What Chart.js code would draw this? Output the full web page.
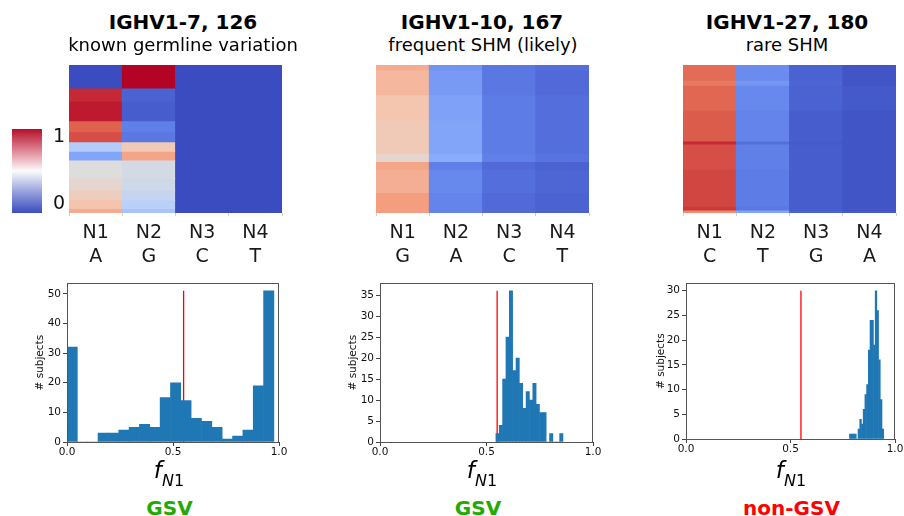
<!DOCTYPE html>
<html><head><meta charset="utf-8">
<script src="https://cdn.jsdelivr.net/npm/chart.js@4.4.1/dist/chart.umd.min.js"></script>
<style>
html,body{margin:0;padding:0;background:#fff;}
body{width:904px;height:516px;position:relative;overflow:hidden;font-family:"DejaVu Sans";}
canvas{position:absolute;}
.t{position:absolute;white-space:nowrap;line-height:1;color:#000;}
</style></head><body>
<script>
// ---------------- DATA ----------------
const colLabels1 = [['N1','A'],['N2','G'],['N3','C'],['N4','T']];
const colLabels2 = [['N1','G'],['N2','A'],['N3','C'],['N4','T']];
const colLabels3 = [['N1','C'],['N2','T'],['N3','G'],['N4','A']];
const nSubjects = 204;

// heatmap 1 : band boundaries (subject rows) and per-column fractions
const hm1Bounds = [0,32,50,77,92,106,119,131,156,172,186,198,204];
const hm1N1 = [0.00,0.95,0.97,0.87,0.90,0.36,0.22,0.50,0.54,0.58,0.63,0.70];
const hm1N2 = [1.00,0.05,0.04,0.12,0.10,0.60,0.72,0.47,0.45,0.42,0.38,0.33];
const hm1N3 = [0,0,0,0,0,0,0,0,0,0,0,0];
const hm1N4 = [0,0,0,0,0,0,0,0,0,0,0,0];

// heatmap 2
const hm2Bounds = [0,7,41,76,122,133,144,176,204];
const hm2N1 = [0.70,0.66,0.62,0.60,0.54,0.72,0.69,0.74];
const hm2N2 = [0.17,0.19,0.21,0.22,0.24,0.12,0.14,0.13];
const hm2N3 = [0.10,0.10,0.11,0.11,0.12,0.07,0.08,0.07];
const hm2N4 = [0.08,0.07,0.08,0.08,0.09,0.05,0.06,0.05];

// heatmap 3
const hm3Bounds = [0,21,28,62,105,109,144,195,200,204];
const hm3N1 = [0.85,0.82,0.86,0.88,0.95,0.90,0.91,0.93,0.78];
const hm3N2 = [0.15,0.18,0.14,0.13,0.08,0.12,0.11,0.10,0.22];
const hm3N3 = [0.05,0.06,0.05,0.04,0.03,0.04,0.04,0.04,0.05];
const hm3N4 = [0.02,0.02,0.03,0.02,0.02,0.02,0.02,0.02,0.03];

// histograms of f_N1 (bin start, bin width, counts)
const h1Start = 0.0,   h1Width = 0.0488;
const h1Counts = [32,0,0,3,3,4,5,6,5,15,20,14,8,7,5,1,2,4,19,51];
const h2Start = 0.544, h2Width = 0.01575;
const h2Counts = [2,4,15,25,36,17,20,14,8,12,10,14,9,7,7,0,2,0,0,2];
const h3Start = 0.782, h3Width = 0.0082;
const h3Counts = [1,1,1,1,0,2,4,3,6,9,11,18,24,24,19,30,26,16,8,2];
const threshold = 0.55;
const xTicks = [0, 0.5, 1];
const colorbarTicks = [0, 1];
const colorbarRange = [-0.14, 1.116];

// ---------------- helpers ----------------
Chart.defaults.font.family = 'DejaVu Sans';
Chart.defaults.color = '#111';
const cwStops = [
  [0.0,[59,76,192]],[0.125,[98,130,234]],[0.25,[141,176,254]],[0.375,[184,208,249]],
  [0.5,[221,221,221]],[0.625,[245,196,173]],[0.75,[244,154,123]],[0.875,[222,96,77]],[1.0,[180,4,38]]];
function coolwarm(v){
  v = Math.max(0,Math.min(1,v));
  for(let i=0;i<cwStops.length-1;i++){
    const [a,ca]=cwStops[i],[b,cb]=cwStops[i+1];
    if(v<=b){const t=(v-a)/(b-a);
      return 'rgb('+ca.map((c,k)=>Math.round(c+(cb[k]-c)*t)).join(',')+')';}
  }
  return 'rgb(180,4,38)';
}
function mkCanvas(l,t,w,h){
  const c=document.createElement('canvas');
  c.width=w;c.height=h;c.style.left=l+'px';c.style.top=t+'px';
  c.style.width=w+'px';c.style.height=h+'px';
  document.body.appendChild(c);return c;
}
function txt(cx,baseline,size,html,extra){
  const d=document.createElement('div');d.className='t';
  d.style.fontSize=size+'px';d.style.top=(baseline-0.846*size)+'px';
  d.style.left=cx+'px';d.style.transform='translateX(-50%)';
  if(extra)Object.assign(d.style,extra);
  d.innerHTML=html;document.body.appendChild(d);return d;
}

function heatmap(left,top,w,h,labels,bounds,cols){
  const padL=10,padR=10,padT=2,axisH=62;
  const cv=mkCanvas(left-padL,top-padT,w+padL+padR,h+padT+axisH);
  const datasets=[];
  for(let b=0;b<bounds.length-1;b++){
    datasets.push({
      data: cols.map(()=>bounds[b+1]-bounds[b]),
      backgroundColor: cols.map(c=>coolwarm(c[b])),
      borderWidth:0, barPercentage:1, categoryPercentage:1, inflateAmount:0.4
    });
  }
  new Chart(cv,{type:'bar',data:{labels:labels,datasets:datasets},
    options:{responsive:false,animation:false,devicePixelRatio:1,
      layout:{padding:{left:padL,right:padR,top:padT,bottom:0}},
      plugins:{legend:{display:false},tooltip:{enabled:false}},
      scales:{
        x:{stacked:true,grid:{display:true,drawOnChartArea:false,tickLength:3,color:'#cfcfcf'},
           border:{display:false},
           ticks:{padding:5,color:'#1a1a1a',font:{size:19,lineHeight:1.26}},
           afterFit:s=>{s.height=axisH;}},
        y:{stacked:true,display:false,reverse:true,min:0,max:nSubjects}
      }}});
}

const framePlugin={id:'frame',afterDraw(ch){const a=ch.chartArea,c=ch.ctx;
  c.save();c.strokeStyle='#555';c.lineWidth=1;
  c.strokeRect(Math.round(a.left)+0.5,Math.round(a.top)+0.5,Math.round(a.right-a.left)-1,Math.round(a.bottom-a.top));
  c.restore();}};

function hist(areaL,areaT,areaW,areaH,start,width,counts,ymax,ystep,titlePad){
  const axW=40,axH=22,padT=8,padR=12;
  const cv=mkCanvas(areaL-axW,areaT-padT,axW+areaW+padR,padT+areaH+axH);
  const maxC=Math.max(...counts);
  new Chart(cv,{data:{datasets:[
      {type:'bar',data:counts.map((c,i)=>({x:start+(i+0.5)*width,y:c})),
       backgroundColor:'#1f77b4',borderWidth:0,barPercentage:1,categoryPercentage:1,inflateAmount:0.3},
      {type:'line',data:[{x:threshold,y:0},{x:threshold,y:maxC}],borderColor:'#ff0000',
       borderWidth:1.3,pointRadius:0,fill:false}
    ]},
    options:{responsive:false,animation:false,devicePixelRatio:1,
      layout:{padding:{left:0,right:padR,top:padT,bottom:0}},
      plugins:{legend:{display:false},tooltip:{enabled:false}},
      scales:{
        x:{type:'linear',min:0,max:1,offset:false,
           afterBuildTicks:s=>{s.ticks=xTicks.map(v=>({value:v}));},
           grid:{display:true,drawOnChartArea:false,tickLength:4,color:'#444',offset:false},
           border:{display:false},
           ticks:{padding:0,color:'#111',font:{size:10.5},callback:v=>v.toFixed(1),maxRotation:0},
           afterFit:s=>{s.height=axH;}},
        y:{type:'linear',min:0,max:ymax,
           grid:{display:true,drawOnChartArea:false,tickLength:4,color:'#444'},
           border:{display:false},
           ticks:{stepSize:ystep,includeBounds:false,padding:2,color:'#111',font:{size:10.5}},
           title:{display:true,text:'# subjects',font:{size:10.5},color:'#111',padding:{top:titlePad,bottom:0}},
           afterFit:s=>{s.width=axW;}}
      }},plugins:[framePlugin]});
}

function colorbar(){
  const padL=10,padT=16,padB=16,axW=25;
  const areaL=12,areaT=129,areaW=30,areaH=84;
  const cv=mkCanvas(areaL-padL,areaT-padT,padL+areaW+axW,padT+areaH+padB);
  new Chart(cv,{type:'bar',data:{labels:[''],datasets:[{
      data:[colorbarRange],borderWidth:0,barPercentage:1,categoryPercentage:1,
      backgroundColor:(ctx)=>{const ch=ctx.chart,a=ch.chartArea;if(!a)return '#fff';
        const g=ch.ctx.createLinearGradient(0,a.bottom,0,a.top);
        g.addColorStop(0,'rgb(59,76,192)');g.addColorStop(0.25,'rgb(150,160,220)');
        g.addColorStop(0.5,'rgb(252,252,252)');g.addColorStop(0.75,'rgb(222,130,145)');
        g.addColorStop(1,'rgb(180,16,42)');return g;}}]},
    options:{responsive:false,animation:false,devicePixelRatio:1,
      layout:{padding:{left:padL,right:0,top:padT,bottom:padB}},
      plugins:{legend:{display:false},tooltip:{enabled:false}},
      scales:{x:{display:false},
        y:{position:'right',min:colorbarRange[0],max:colorbarRange[1],
           afterBuildTicks:s=>{s.ticks=colorbarTicks.map(v=>({value:v}));},
           grid:{display:false},border:{display:false},
           ticks:{padding:3,color:'#111',font:{size:19}},
           afterFit:s=>{s.width=axW;}}}}});
}

// ---------------- draw ----------------
colorbar();
heatmap(69,65,213,148,colLabels1,hm1Bounds,[hm1N1,hm1N2,hm1N3,hm1N4]);
heatmap(376,65,213,148,colLabels2,hm2Bounds,[hm2N1,hm2N2,hm2N3,hm2N4]);
heatmap(683,65,213,148,colLabels3,hm3Bounds,[hm3N1,hm3N2,hm3N3,hm3N4]);

hist(67,283,212,159,h1Start,h1Width,h1Counts,53.55,10,7);
hist(380,283,213,159,h2Start,h2Width,h2Counts,37.8,5,7);
hist(686,283,209,156,h3Start,h3Width,h3Counts,31.5,5,9);

// titles
txt(183,29.3,20,'IGHV1-7, 126',{fontWeight:'bold'});
txt(183,51,18,'known germline variation');
txt(482,29.3,20,'IGHV1-10, 167',{fontWeight:'bold'});
txt(483,51,18,'frequent SHM (likely)');
txt(787,29.3,20,'IGHV1-27, 180',{fontWeight:'bold'});
txt(787,51,18,'rare SHM');

// x labels f_N1
const fHtml='<span style="font-style:italic;font-size:23px">f</span><span style="font-style:italic;font-size:16px;position:relative;top:8px">N</span><span style="font-size:16px;position:relative;top:8px">1</span>';
txt(169,478,23,fHtml);
txt(482,478,23,fHtml);
txt(791,478,23,fHtml);

// verdicts
txt(169.5,515,20,'GSV',{fontWeight:'bold',color:'#22aa00'});
txt(478,515,20,'GSV',{fontWeight:'bold',color:'#22aa00'});
txt(791.5,515,20,'non-GSV',{fontWeight:'bold',color:'#ff0000'});
</script>
</body></html>
